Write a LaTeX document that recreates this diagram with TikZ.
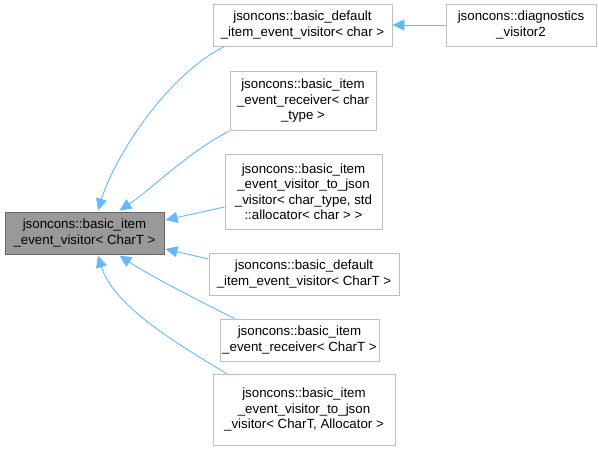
\documentclass[tikz,border=0pt]{standalone}
\usepackage{fontspec}
\setmainfont{Liberation Sans}
\usetikzlibrary{arrows.meta}
\definecolor{edgec}{HTML}{63B8FF}
\definecolor{boxb}{HTML}{BFBFBF}
\begin{document}
\begin{tikzpicture}[x=1pt,y=-1pt,
  cls/.style={draw=boxb,fill=white,line width=0.9pt,align=center,inner sep=0pt,font=\fontsize{13.3}{15.5}\selectfont},
  edge/.style={draw=edgec,line width=0.9pt,-{Triangle[length=12pt,width=11pt]}}]
\useasboundingbox (0,0) rectangle (599,451);
\node[cls,fill=black!40,draw=black!60,minimum width=159pt,minimum height=42pt] (main) at (84.5,233) {jsoncons::basic\_item\\\_event\_visitor< CharT >};
\node[cls,minimum width=179pt,minimum height=42pt] (a) at (302.5,25) {jsoncons::basic\_default\\\_item\_event\_visitor< char >};
\node[cls,minimum width=150pt,minimum height=42pt] (dg) at (521,25) {jsoncons::diagnostics\\\_visitor2};
\node[cls,minimum width=146pt,minimum height=59pt] (b) at (303,101) {jsoncons::basic\_item\\\_event\_receiver< char\\\_type >};
\node[cls,minimum width=157pt,minimum height=75pt] (c) at (303.5,191.5) {jsoncons::basic\_item\\\_event\_visitor\_to\_json\\\_visitor< char\_type, std\\::allocator< char > >};
\node[cls,minimum width=190pt,minimum height=42pt] (d) at (304,274) {jsoncons::basic\_default\\\_item\_event\_visitor< CharT >};
\node[cls,minimum width=159pt,minimum height=42pt] (e) at (299.5,340) {jsoncons::basic\_item\\\_event\_receiver< CharT >};
\node[cls,minimum width=182pt,minimum height=71pt] (f) at (304,409.5) {jsoncons::basic\_item\\\_event\_visitor\_to\_json\\\_visitor< CharT, Allocator >};
\draw[edge] (dg.west) -- (a.east);
\draw[edge] ([xshift=12pt]a.south west) .. controls +(-60,30) and +(15,-50) .. ([xshift=13.5pt,yshift=1pt]main.north);
\draw[edge] (b.south west) .. controls +(-40,20) and +(30,-20) .. ([xshift=35pt,yshift=1pt]main.north);
\draw[edge] ([yshift=-15.5pt]c.west) -- ([yshift=13pt,xshift=1pt]main.east);
\draw[edge] ([yshift=15pt]d.west) -- ([yshift=-16pt,xshift=1pt]main.east);
\draw[edge] ([xshift=15pt]e.north west) .. controls +(-40,-20) and +(30,20) .. ([xshift=35pt,yshift=-1pt]main.south);
\draw[edge] ([xshift=14pt]f.north west) .. controls +(-50,-30) and +(15,50) .. ([xshift=13.5pt,yshift=-1pt]main.south);
\end{tikzpicture}
\end{document}
